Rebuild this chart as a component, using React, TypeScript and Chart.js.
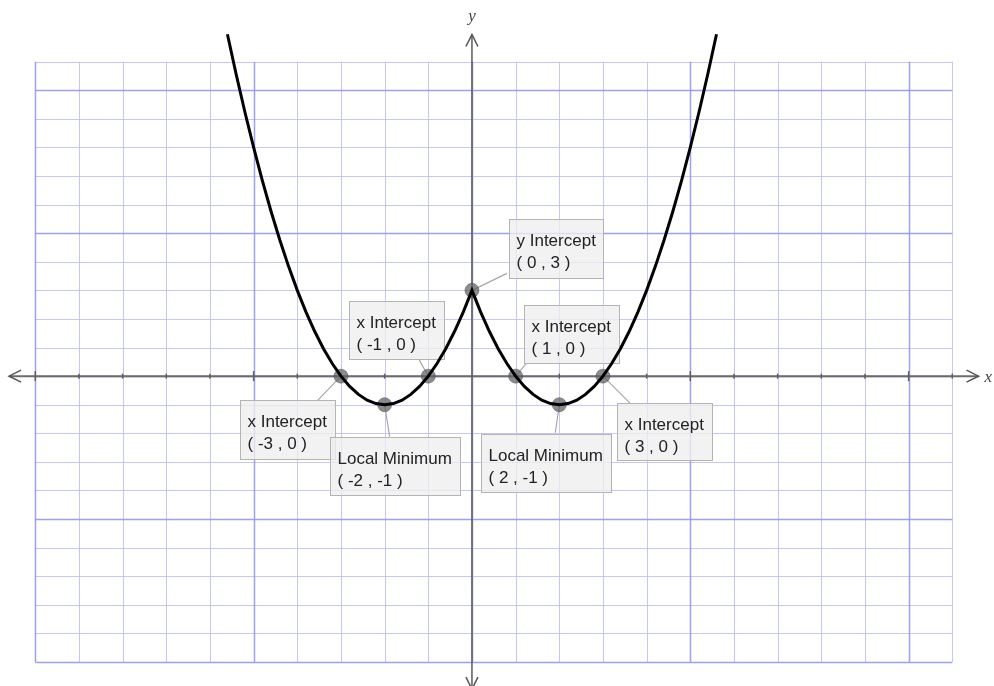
import React, { useEffect, useRef } from 'react';
import { Chart, registerables } from 'chart.js';

Chart.register(...registerables);

// ---- data ----
const curveX = [
  -5.6, -5.4, -5.2, -5, -4.8, -4.6, -4.4, -4.2, -4, -3.8, -3.6, -3.4, -3.2, -3, -2.8, -2.6, -2.4, -2.2, -2,
  -1.8, -1.6, -1.4, -1.2, -1, -0.8, -0.6, -0.4, -0.2, 0,
  0.2, 0.4, 0.6, 0.8, 1, 1.2, 1.4, 1.6, 1.8, 2, 2.2, 2.4, 2.6, 2.8, 3, 3.2, 3.4, 3.6, 3.8, 4,
  4.2, 4.4, 4.6, 4.8, 5, 5.2, 5.4, 5.6,
];
const curveY = [
  11.96, 10.56, 9.24, 8, 6.84, 5.76, 4.76, 3.84, 3, 2.24, 1.56, 0.96, 0.44, 0, -0.36, -0.64, -0.84, -0.96, -1,
  -0.96, -0.84, -0.64, -0.36, 0, 0.44, 0.96, 1.56, 2.24, 3,
  2.24, 1.56, 0.96, 0.44, 0, -0.36, -0.64, -0.84, -0.96, -1, -0.96, -0.84, -0.64, -0.36, 0, 0.44, 0.96, 1.56, 2.24, 3,
  3.84, 4.76, 5.76, 6.84, 8, 9.24, 10.56, 11.96,
];

const keyX = [-3, -2, -1, 0, 1, 2, 3];
const keyY = [0, -1, 0, 3, 0, -1, 0];
const keyTitles = [
  'x Intercept',
  'Local Minimum',
  'x Intercept',
  'y Intercept',
  'x Intercept',
  'Local Minimum',
  'x Intercept',
];

const gridXRange = [-10, 11];
const gridYRange = [-10, 11];
const majorStep = 5;
const axisXExtent = [-10.6, 11.6];
const axisYExtent = [-10.95, 11.95];
const viewX = [-10.808, 11.955];
const viewY = [-10.84, 13.158];

// ---- callout layout (pixel offsets from each point) ----
const calloutBox = [
  [-101, 24, 95, 59],
  [-55, 32, 130, 58],
  [-79, -75, 95, 58],
  [37, -71, 94, 59],
  [8, -71, 95, 58],
  [-78, 29, 130, 58],
  [14, 27, 95, 57],
];
const calloutLeader = [
  [-23, 24],
  [5, 32],
  [-9, -16],
  [35, -17],
  [11, -13],
  [-4, 28],
  [27, 27],
];

const crisp = (v: number) => Math.round(v) + 0.5;

const paperPlugin = {
  id: 'paper',
  beforeDatasetsDraw(chart: any) {
    const { ctx } = chart;
    const xs = chart.scales.x;
    const ys = chart.scales.y;
    const L = xs.getPixelForValue(gridXRange[0]);
    const R = xs.getPixelForValue(gridXRange[1]);
    const T = ys.getPixelForValue(gridYRange[1]);
    const B = ys.getPixelForValue(gridYRange[0]);
    ctx.save();
    // grid
    for (const major of [false, true]) {
      ctx.strokeStyle = major ? 'rgba(150,150,238,0.9)' : 'rgba(195,195,248,0.95)';
      ctx.lineWidth = major ? 1.5 : 1;
      for (let v = gridXRange[0]; v <= gridXRange[1]; v++) {
        if ((v % majorStep === 0) !== major) continue;
        const p = crisp(xs.getPixelForValue(v));
        ctx.beginPath();
        ctx.moveTo(p, T);
        ctx.lineTo(p, B);
        ctx.stroke();
      }
      for (let v = gridYRange[0]; v <= gridYRange[1]; v++) {
        if ((v % majorStep === 0) !== major) continue;
        const p = crisp(ys.getPixelForValue(v));
        ctx.beginPath();
        ctx.moveTo(L, p);
        ctx.lineTo(R, p);
        ctx.stroke();
      }
    }

    // axes
    const x0 = xs.getPixelForValue(0);
    const y0 = ys.getPixelForValue(0);
    const ax1 = xs.getPixelForValue(axisXExtent[0]);
    const ax2 = xs.getPixelForValue(axisXExtent[1]);
    const ay1 = ys.getPixelForValue(axisYExtent[1]);
    const ay2 = ys.getPixelForValue(axisYExtent[0]);
    ctx.strokeStyle = '#6b6b6b';
    ctx.lineWidth = 2;
    ctx.beginPath();
    ctx.moveTo(ax1, y0);
    ctx.lineTo(ax2, y0);
    ctx.stroke();
    ctx.lineWidth = 1.5;
    ctx.strokeStyle = '#5a5a5a';
    ctx.beginPath();
    ctx.moveTo(x0, ay1);
    ctx.lineTo(x0, ay2);
    ctx.stroke();

    // ticks on x axis
    ctx.strokeStyle = '#5f5f5f';
    ctx.lineWidth = 1.5;
    for (let v = gridXRange[0]; v <= gridXRange[1]; v++) {
      if (v === 0) continue;
      const p = xs.getPixelForValue(v);
      const h = v % majorStep === 0 ? 5 : 2.5;
      ctx.beginPath();
      ctx.moveTo(p, y0 - h);
      ctx.lineTo(p, y0 + h);
      ctx.stroke();
    }

    // arrow heads
    ctx.strokeStyle = '#555';
    ctx.lineWidth = 1.5;
    const arrow = (tx: number, ty: number, dx: number, dy: number) => {
      const len = 12;
      const spread = 6;
      const bx = tx - dx * len;
      const by = ty - dy * len;
      ctx.beginPath();
      ctx.moveTo(bx - dy * spread, by + dx * spread);
      ctx.lineTo(tx, ty);
      ctx.lineTo(bx + dy * spread, by - dx * spread);
      ctx.stroke();
    };
    arrow(ax1, y0, -1, 0);
    arrow(ax2, y0, 1, 0);
    arrow(x0, ay1, 0, -1);
    arrow(x0, ay2, 0, 1);

    // axis names
    ctx.fillStyle = '#444';
    ctx.font = 'italic 17px "Liberation Serif", "DejaVu Serif", serif';
    ctx.textBaseline = 'middle';
    ctx.textAlign = 'left';
    ctx.fillText('x', ax2 + 6, y0 + 1);
    ctx.textAlign = 'center';
    ctx.fillText('y', x0, ay1 - 18);

    // callouts
    ctx.font = '17px "Liberation Sans", Arial, sans-serif';
    ctx.textAlign = 'left';
    ctx.textBaseline = 'alphabetic';
    for (let i = 0; i < keyX.length; i++) {
      const px = xs.getPixelForValue(keyX[i]);
      const py = ys.getPixelForValue(keyY[i]);
      const [dx, dy, w, h] = calloutBox[i];
      const bx = Math.round(px + dx) + 0.5;
      const by = Math.round(py + dy) + 0.5;
      // leader
      ctx.strokeStyle = '#a8a8a8';
      ctx.lineWidth = 1.2;
      ctx.beginPath();
      ctx.moveTo(px, py);
      ctx.lineTo(px + calloutLeader[i][0], py + calloutLeader[i][1]);
      ctx.stroke();
      // box
      ctx.fillStyle = 'rgba(238,238,238,0.78)';
      ctx.fillRect(bx, by, w, h);
      ctx.strokeStyle = '#b4b4b4';
      ctx.lineWidth = 1;
      ctx.strokeRect(bx, by, w, h);
      // text
      ctx.fillStyle = '#222';
      ctx.fillText(keyTitles[i], bx + 7, by + 26);
      ctx.fillText(`( ${keyX[i]} , ${keyY[i]} )`, bx + 7, by + 48);
    }
    ctx.restore();
  },
};

export default function App() {
  const ref = useRef<HTMLCanvasElement | null>(null);
  useEffect(() => {
    if (!ref.current) return;
    const chart = new Chart(ref.current, {
      type: 'scatter',
      data: {
        datasets: [
          {
            label: 'curve',
            data: curveX.map((x, i) => ({ x, y: curveY[i] })),
            showLine: true,
            borderColor: '#000',
            borderWidth: 3,
            pointRadius: 0,
            tension: 0,
            order: 0,
          },
          {
            label: 'key points',
            data: keyX.map((x, i) => ({ x, y: keyY[i] })),
            showLine: false,
            pointRadius: 7,
            pointBackgroundColor: 'rgba(95,95,95,0.72)',
            pointBorderColor: 'rgba(80,80,80,0.5)',
            pointBorderWidth: 1,
            order: 1,
          },
        ],
      },
      options: {
        responsive: false,
        animation: false,
        events: [],
        layout: { padding: 0, autoPadding: false },
        scales: {
          x: { type: 'linear', min: viewX[0], max: viewX[1], display: false },
          y: { type: 'linear', min: viewY[0], max: viewY[1], display: false },
        },
        plugins: { legend: { display: false }, tooltip: { enabled: false } },
      },
      plugins: [paperPlugin],
    });
    return () => chart.destroy();
  }, []);
  return (
    <div style={{ position: 'absolute', left: 0, top: 0, width: 994, height: 686, background: '#fff' }}>
      <canvas ref={ref} width={994} height={686} />
    </div>
  );
}
